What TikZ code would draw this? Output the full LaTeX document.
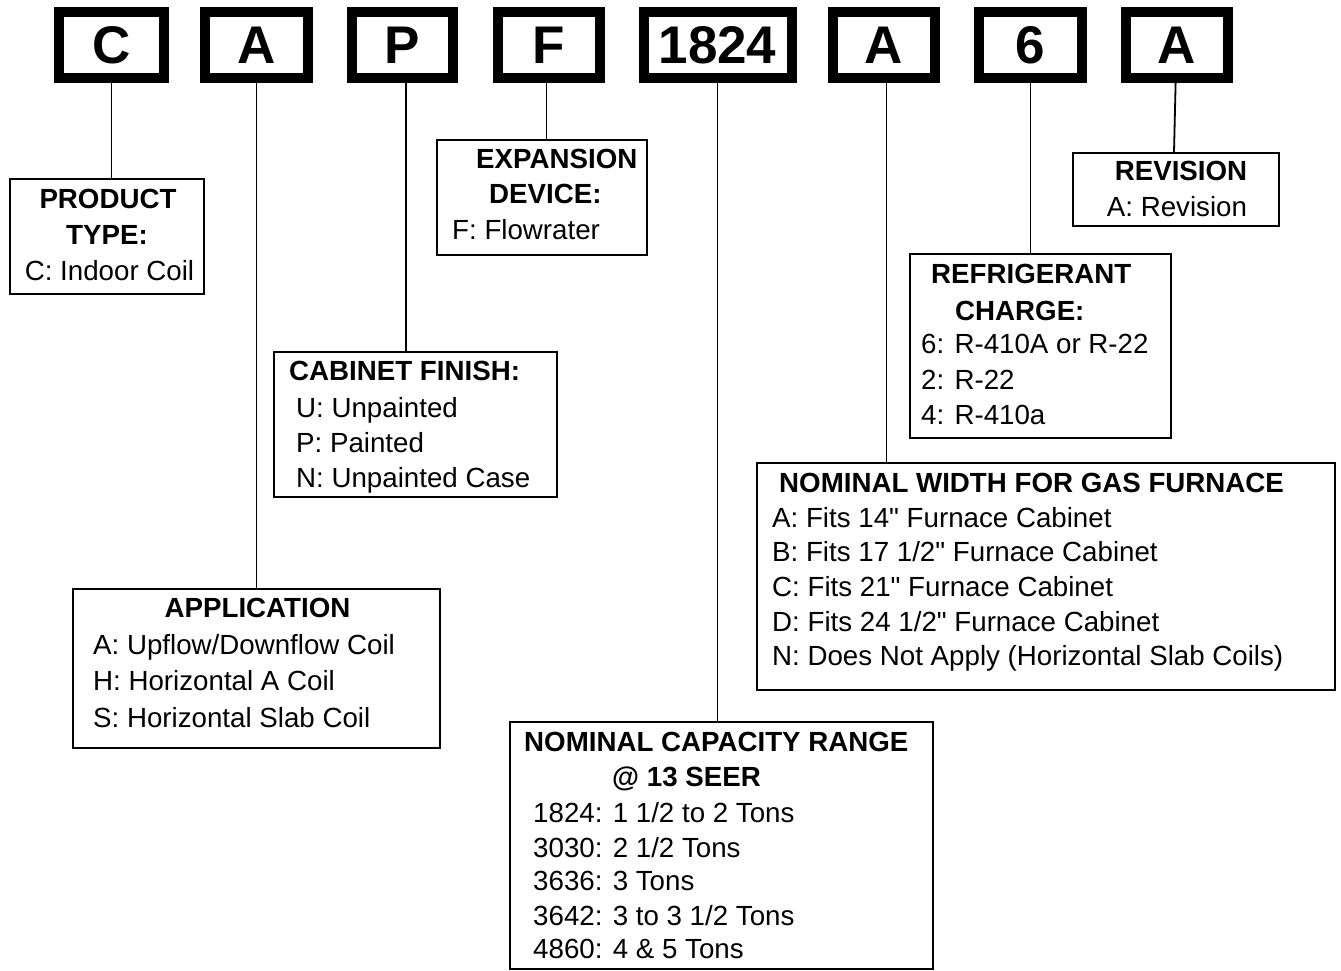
\documentclass[tikz,border=0pt]{standalone}
\usepackage{fontspec}
\setmainfont{Liberation Sans}[Ligatures=TeXOff]
\begin{document}
\begin{tikzpicture}[x=1pt,y=-1pt,
  bigbox/.style={draw, line width=10pt, minimum height=66pt, inner sep=0pt,
    font=\fontsize{53}{60}\selectfont\bfseries},
  descbox/.style={draw, line width=1.8pt, inner sep=0pt},
  conn/.style={line width=1.8pt},
  txt/.style={anchor=base west, inner sep=0pt, font=\fontsize{27.7}{33}\selectfont},
  hdr/.style={txt, font=\fontsize{27.7}{33}\selectfont\bfseries},
  hdrc/.style={hdr, anchor=base},
  txtc/.style={txt, anchor=base}]
\useasboundingbox (0,0) rectangle (1341,971);

% description boxes
\node[descbox, minimum width=194pt, minimum height=115pt] (ptype) at (107,236.5) {};
\node[descbox, minimum width=210pt, minimum height=115pt] (exp) at (542,197.5) {};
\node[descbox, minimum width=283pt, minimum height=145pt] (cab) at (415.5,424.5) {};
\node[descbox, minimum width=367pt, minimum height=159pt] (app) at (256.5,668.5) {};
\node[descbox, minimum width=206pt, minimum height=73pt] (rev) at (1176,189.5) {};
\node[descbox, minimum width=261pt, minimum height=184pt] (ref) at (1040.5,346) {};
\node[descbox, minimum width=578pt, minimum height=227pt] (wid) at (1046,576.5) {};
\node[descbox, minimum width=423pt, minimum height=247pt] (cap) at (721.5,845.5) {};

% code box centres (connector start points)
\coordinate (pC) at (111.5,45);
\coordinate (pA1) at (256.5,45);
\coordinate (pP) at (402.5,45);
\coordinate (pF) at (549,45);
\coordinate (pN) at (717.5,45);
\coordinate (pA2) at (884,45);
\coordinate (p6) at (1030.5,45);
\coordinate (pA3) at (1176.5,45);

% connectors
\draw[conn] (pC) -- (pC |- ptype.north);
\draw[conn] (pA1) -- (pA1 |- app.north);
\draw[conn] ([xshift=3.5pt]pP) -- ([xshift=3.5pt]pP |- cab.north);
\draw[conn] ([xshift=-2.5pt]pF) -- ([xshift=-2.5pt]pF |- exp.north);
\draw[conn] (pN) -- (pN |- cap.north);
\draw[conn] ([xshift=2.5pt]pA2) -- ([xshift=2.5pt]pA2 |- wid.north);
\draw[conn] (p6) -- (p6 |- ref.north);
\draw[conn] (pA3) -- ([xshift=-2.5pt]pA3 |- rev.north);

% code boxes
\node[bigbox, minimum width=105pt, fill=white] (bC) at (pC) {C};
\node[bigbox, minimum width=103pt, fill=white] (bA1) at (pA1) {A};
\node[bigbox, minimum width=101pt, fill=white] (bP) at (pP) {P};
\node[bigbox, minimum width=102pt, fill=white] (bF) at (pF) {F};
\node[bigbox, minimum width=148pt, fill=white] (bN) at (pN) {1824};
\node[bigbox, minimum width=102pt, fill=white] (bA2) at (pA2) {A};
\node[bigbox, minimum width=103pt, fill=white] (b6) at (p6) {6};
\node[bigbox, minimum width=102pt, fill=white] (bA3) at (pA3) {A};

% texts
\node[hdrc] (t1) at (108,208) {PRODUCT};
\node[hdrc] (t2) at (107,244) {TYPE:};
\node[txtc] (t3) at (109.5,280) {C: Indoor Coil};

\node[hdr] (t4) at (476,168) {EXPANSION};
\node[hdr] (t5) at (489,203) {DEVICE:};
\node[txt] (t6) at (452,239) {F: Flowrater};

\node[hdr] (t7) at (289,380) {CABINET FINISH:};
\node[txt] (t8) at (296,417) {U: Unpainted};
\node[txt] (t9) at (296,452) {P: Painted};
\node[txt] (t10) at (296,487) {N: Unpainted Case};

\node[hdrc] (t11) at (257.5,617) {APPLICATION};
\node[txt] (t12) at (93,654) {A: Upflow/Downflow Coil};
\node[txt] (t13) at (93,690) {H: Horizontal A Coil};
\node[txt] (t14) at (93,727) {S: Horizontal Slab Coil};

\node[hdrc] (t15) at (1181,180) {REVISION};
\node[txtc] (t16) at (1177,216) {A: Revision};

\node[hdr] (t17) at (931,283) {REFRIGERANT};
\node[hdr] (t18) at (955,320) {CHARGE:};
\node[txt] (t19) at (921,353) {6: R-410A or R-22};
\node[txt] (t20) at (921,389) {2: R-22};
\node[txt] (t21) at (921,424) {4: R-410a};

\node[hdr] (t22) at (779,492) {NOMINAL WIDTH FOR GAS FURNACE};
\node[txt] (t23) at (772,527) {A: Fits 14" Furnace Cabinet};
\node[txt] (t24) at (772,561) {B: Fits 17 1/2" Furnace Cabinet};
\node[txt] (t25) at (772,596) {C: Fits 21" Furnace Cabinet};
\node[txt] (t26) at (772,631) {D: Fits 24 1/2" Furnace Cabinet};
\node[txt] (t27) at (772,665) {N: Does Not Apply (Horizontal Slab Coils)};

\node[hdr] (t28) at (524,751) {NOMINAL CAPACITY RANGE};
\node[hdr] (t29) at (612,786) {@ 13 SEER};
\node[txt] (t30) at (533,822) {1824: 1 1/2 to 2 Tons};
\node[txt] (t31) at (533,857) {3030: 2 1/2 Tons};
\node[txt] (t32) at (533,890) {3636: 3 Tons};
\node[txt] (t33) at (533,925) {3642: 3 to 3 1/2 Tons};
\node[txt] (t34) at (533,958) {4860: 4 \& 5 Tons};
\end{tikzpicture}
\end{document}
